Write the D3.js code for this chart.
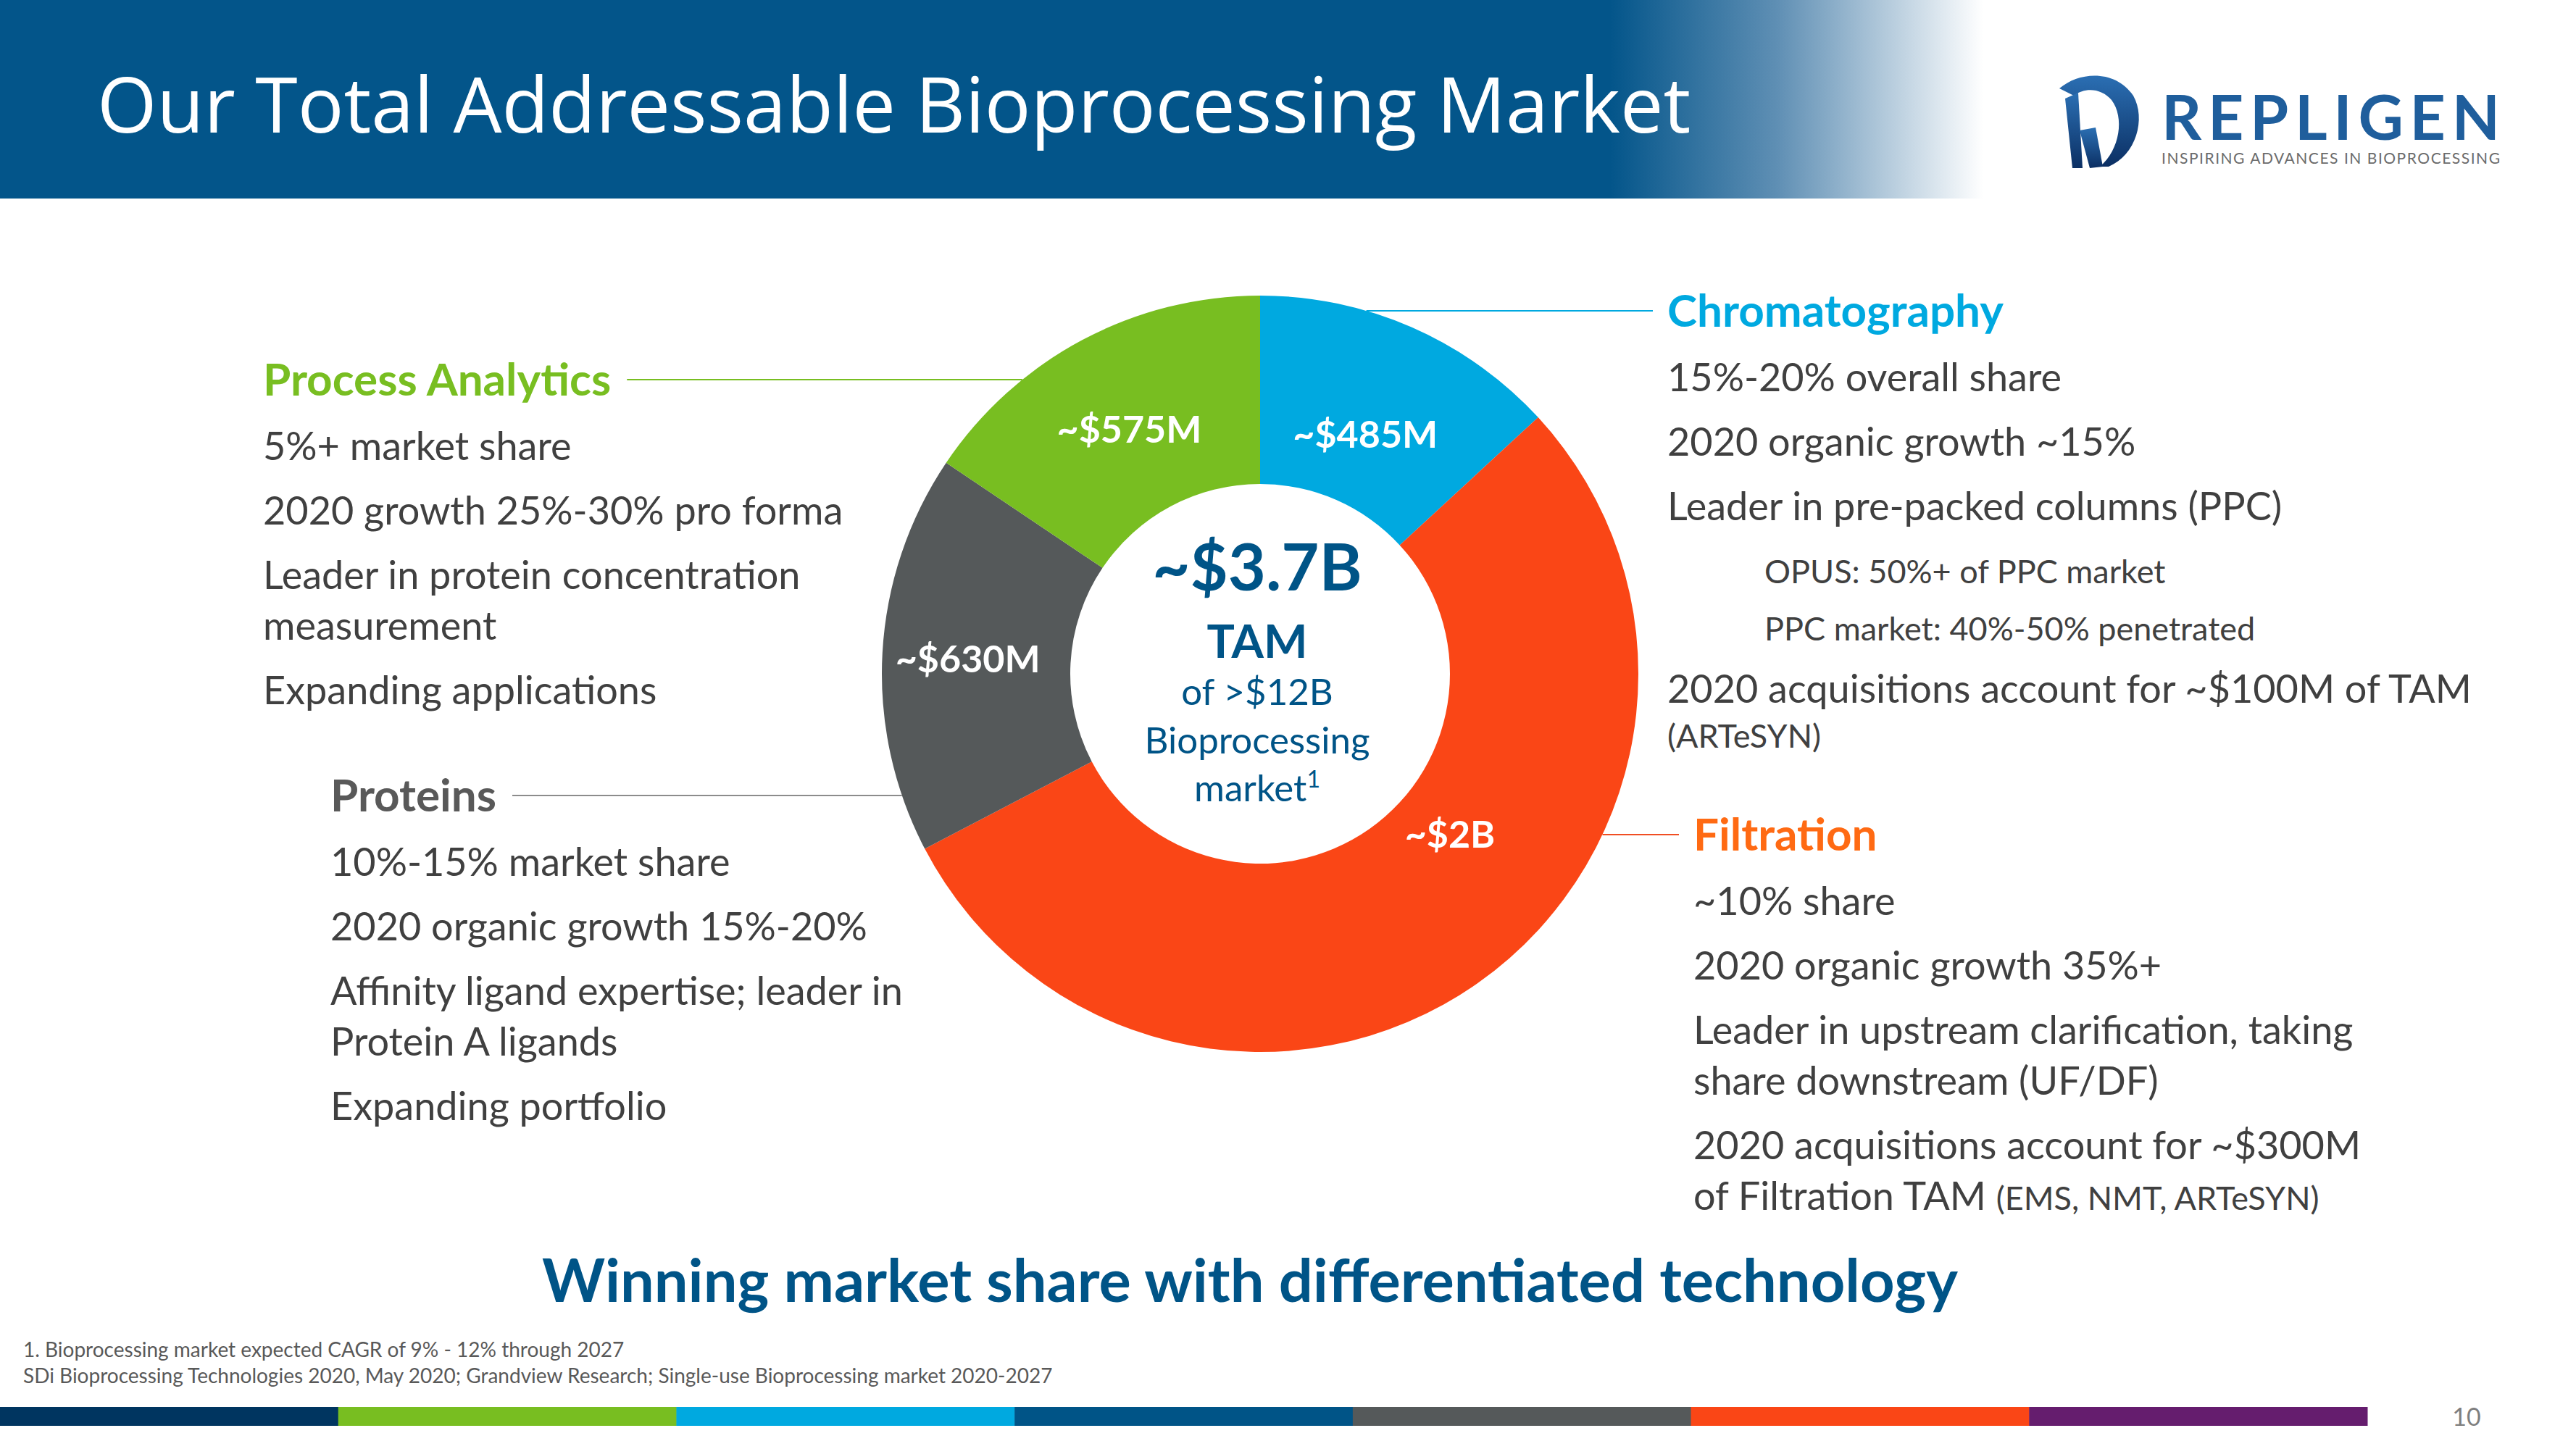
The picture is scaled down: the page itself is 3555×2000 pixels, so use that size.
<!DOCTYPE html>
<html>
<head>
<meta charset="utf-8">
<script src="https://cdn.jsdelivr.net/npm/d3@7"></script>
<style>
  html, body { margin: 0; padding: 0; background: #fff; }
  svg { display: block; }
</style>
</head>
<body>
<svg id="chart"></svg>
<script>
// --- data ---
const segments = ["Chromatography", "Filtration", "Proteins", "Process Analytics"];
const tamValues = [485, 2000, 630, 575];
const tamLabels = ["~$485M", "~$2B", "~$630M", "~$575M"];
const segmentColors = ["#00A9E0", "#FA4616", "#55595A", "#78BE21"];
const headingColors = ["#00A9E0", "#FF6A13", "#595959", "#78BE21"];

const chromatographyNotes = [
  ["15%-20% overall share"],
  ["2020 organic growth ~15%"],
  ["Leader in pre-packed columns (PPC)"],
  ["OPUS: 50%+ of PPC market"],
  ["PPC market: 40%-50% penetrated"],
  ["2020 acquisitions account for ~$100M of TAM", "(ARTeSYN)"]
];
const filtrationNotes = [
  ["~10% share"],
  ["2020 organic growth 35%+"],
  ["Leader in upstream clarification, taking", "share downstream (UF/DF)"],
  ["2020 acquisitions account for ~$300M", "of Filtration TAM |(EMS, NMT, ARTeSYN)"]
];
const proteinsNotes = [
  ["10%-15% market share"],
  ["2020 organic growth 15%-20%"],
  ["Affinity ligand expertise; leader in", "Protein A ligands"],
  ["Expanding portfolio"]
];
const analyticsNotes = [
  ["5%+ market share"],
  ["2020 growth 25%-30% pro forma"],
  ["Leader in protein concentration", "measurement"],
  ["Expanding applications"]
];

const titleText = "Our Total Addressable Bioprocessing Market";
const centerLines = ["~$3.7B", "TAM", "of >$12B", "Bioprocessing", "market"];
const tagline = "Winning market share with differentiated technology";
const footnotes = [
  "1.  Bioprocessing market expected CAGR of 9% - 12% through 2027",
  "SDi Bioprocessing Technologies 2020, May 2020; Grandview Research; Single-use Bioprocessing market 2020-2027"
];
const barColors = ["#003560", "#78BE21", "#00A9E0", "#005487", "#55595A", "#FA4616", "#651D6E"];
const pageNumber = "10";

// --- setup ---
const W = 3555, H = 2000;
const svg = d3.select("#chart").attr("width", W).attr("height", H);
const bodyFont = "Lato, 'Open Sans', sans-serif";
const textGrey = "#404040";
const navy = "#005487";

// header band with fade to white
const defs = svg.append("defs");
const hdr = defs.append("linearGradient").attr("id", "hdr")
  .attr("x1", 0).attr("x2", 1).attr("y1", 0).attr("y2", 0);
[[0, "#03558A"], [0.625, "#03558A"], [0.69, "#5f8fb4"], [0.77, "#ffffff"]]
  .forEach(([o, c]) => hdr.append("stop").attr("offset", o).attr("stop-color", c));
svg.append("rect").attr("width", W).attr("height", 274).attr("fill", "url(#hdr)");

svg.append("text")
  .attr("x", 134).attr("y", 183)
  .attr("font-family", "'Open Sans', sans-serif")
  .attr("font-size", 106)
  .attr("fill", "#fff")
  .text(titleText);

// logo
const logoGrad = defs.append("linearGradient").attr("id", "logoGrad")
  .attr("x1", 0).attr("x2", 0).attr("y1", 0).attr("y2", 1);
logoGrad.append("stop").attr("offset", 0).attr("stop-color", "#2b6fb3");
logoGrad.append("stop").attr("offset", 1).attr("stop-color", "#0b2f63");
const logo = svg.append("g").attr("transform", "translate(2840,102)");
// bowl of the R
logo.append("path")
  .attr("d", "M2,20 C30,-4 80,-6 104,30 C122,62 108,112 70,128 L58,128 C86,104 92,60 74,36 C60,20 38,18 22,30 Z")
  .attr("fill", "url(#logoGrad)");
// stem and leg
logo.append("path").attr("d", "M10,34 L28,26 L34,130 L20,130 Z").attr("fill", "url(#logoGrad)");
logo.append("path").attr("d", "M30,78 L52,74 L62,128 L44,130 Z").attr("fill", "url(#logoGrad)");
svg.append("text").attr("x", 2983).attr("y", 193)
  .attr("font-family", bodyFont).attr("font-weight", 700).attr("font-size", 86)
  .attr("textLength", 467).attr("lengthAdjust", "spacing")
  .attr("fill", "#1f5e9c").text("REPLIGEN");
svg.append("text").attr("x", 2983).attr("y", 226)
  .attr("font-family", bodyFont).attr("font-size", 21)
  .attr("textLength", 467).attr("lengthAdjust", "spacing")
  .attr("fill", "#6b6b6b").text("INSPIRING ADVANCES IN BIOPROCESSING");

// --- donut ---
const cx = 1739, cy = 930, rOuter = 522, rInner = 262;
const color = d3.scaleOrdinal().domain(segments).range(segmentColors);
const pie = d3.pie().sort(null).value(d => d.value);
const arcs = pie(segments.map((s, i) => ({ name: s, value: tamValues[i], label: tamLabels[i] })));
const arc = d3.arc().innerRadius(rInner).outerRadius(rOuter);

const donut = svg.append("g").attr("transform", `translate(${cx},${cy})`);
donut.selectAll("path.slice")
  .data(arcs)
  .join("path")
  .attr("class", "slice")
  .attr("d", arc)
  .attr("fill", d => color(d.data.name));

// label radius per slice; Filtration's label also sits higher than its mid-angle
const labelTweak = {
  "Chromatography": { r: 362 },
  "Filtration": { angle: 130, r: 342 },
  "Proteins": { r: 404 },
  "Process Analytics": { r: 384 }
};
donut.selectAll("text.val")
  .data(arcs)
  .join("text")
  .attr("class", "val")
  .attr("transform", d => {
    const t = labelTweak[d.data.name];
    const a = t.angle != null ? t.angle * Math.PI / 180 : (d.startAngle + d.endAngle) / 2;
    const c = d3.arc().innerRadius(t.r).outerRadius(t.r).startAngle(a).endAngle(a).centroid();
    return `translate(${c})`;
  })
  .attr("text-anchor", "middle")
  .attr("dominant-baseline", "central")
  .attr("font-family", bodyFont).attr("font-weight", 700).attr("font-size", 52)
  .attr("fill", "#fff")
  .text(d => d.data.label);

// center text
const center = svg.append("g").attr("transform", `translate(${cx - 4},0)`)
  .attr("text-anchor", "middle").attr("font-family", bodyFont).attr("fill", navy);
center.append("text").attr("y", 815).attr("font-size", 90).attr("font-weight", 700).text(centerLines[0]);
center.append("text").attr("y", 908).attr("font-size", 64).attr("font-weight", 700).text(centerLines[1]);
center.append("text").attr("y", 973).attr("font-size", 51).text(centerLines[2]);
center.append("text").attr("y", 1040).attr("font-size", 51).text(centerLines[3]);
const mk = center.append("text").attr("y", 1106).attr("font-size", 51);
mk.append("tspan").text(centerLines[4]);
mk.append("tspan").attr("dy", -19).attr("font-size", 32).text("1");

// --- side blocks ---
function edgeX(y, side) {
  const dy = y - cy;
  return cx + side * Math.sqrt(rOuter * rOuter - dy * dy);
}

const bodySize = 54, smallSize = 45, headSize = 62;

function drawBlock(opt) {
  const g = svg.append("g").attr("font-family", bodyFont);
  const head = g.append("text")
    .attr("x", opt.x).attr("y", opt.headY)
    .attr("font-size", headSize).attr("font-weight", 700)
    .attr("fill", opt.headColor)
    .text(opt.heading);
  // leader line to the donut edge
  const lineY = opt.headY - 22;
  let x1, x2;
  if (opt.side < 0) {
    x1 = opt.x + head.node().getComputedTextLength() + 22;
    x2 = edgeX(lineY, -1);
  } else {
    x1 = edgeX(lineY, 1);
    x2 = opt.x - 20;
  }
  g.append("line").attr("x1", x1).attr("x2", x2).attr("y1", lineY).attr("y2", lineY)
    .attr("stroke", opt.lineColor).attr("stroke-width", 2.2);

  let y = opt.headY;
  opt.notes.forEach((item, i) => {
    item.forEach((line, j) => {
      const isSub = opt.subItems && opt.subItems.includes(i);
      const isSmallLine = opt.smallWrap && opt.smallWrap.includes(i) && j > 0;
      y += j === 0 ? (opt.subGap && opt.subGap[i] ? opt.subGap[i] : 89) : (isSmallLine ? 62 : 70);
      const t = g.append("text")
        .attr("x", isSub ? opt.x + 134 : opt.x)
        .attr("y", y)
        .attr("fill", textGrey)
        .attr("font-size", isSub || isSmallLine ? smallSize : bodySize);
      const parts = line.split("|");
      t.append("tspan").text(parts[0]);
      if (parts[1]) t.append("tspan").attr("font-size", smallSize).text(parts[1]);
    });
  });
}

drawBlock({ x: 363, headY: 546, heading: segments[3], headColor: headingColors[3],
  lineColor: "#78BE21", side: -1, notes: analyticsNotes });
drawBlock({ x: 456, headY: 1120, heading: segments[2], headColor: headingColors[2],
  lineColor: "#8c8c8c", side: -1, notes: proteinsNotes });
drawBlock({ x: 2301, headY: 451, heading: segments[0], headColor: headingColors[0],
  lineColor: "#00A9E0", side: 1, notes: chromatographyNotes,
  subItems: [3, 4], smallWrap: [5], subGap: { 3: 87, 4: 79, 5: 86 } });
drawBlock({ x: 2337, headY: 1174, heading: segments[1], headColor: headingColors[1],
  lineColor: "#F04E23", side: 1, notes: filtrationNotes });

// --- bottom ---
svg.append("text").attr("x", 1725).attr("y", 1797)
  .attr("text-anchor", "middle")
  .attr("font-family", bodyFont).attr("font-weight", 700).attr("font-size", 83)
  .attr("fill", navy).text(tagline);

svg.selectAll("text.foot").data(footnotes).join("text")
  .attr("class", "foot")
  .attr("x", 32).attr("y", (d, i) => 1873 + i * 36)
  .attr("font-family", bodyFont).attr("font-size", 28)
  .attr("fill", "#595959").text(d => d);

const barX = d3.scaleBand().domain(d3.range(barColors.length)).range([0, 3267]);
svg.selectAll("rect.bar").data(barColors).join("rect")
  .attr("class", "bar")
  .attr("x", (d, i) => barX(i)).attr("width", barX.bandwidth() + 0.5)
  .attr("y", 1942).attr("height", 26)
  .attr("fill", d => d);

svg.append("text").attr("x", 3404).attr("y", 1968)
  .attr("text-anchor", "middle")
  .attr("font-family", bodyFont).attr("font-size", 34)
  .attr("fill", "#7f7f7f").text(pageNumber);
</script>
</body>
</html>
